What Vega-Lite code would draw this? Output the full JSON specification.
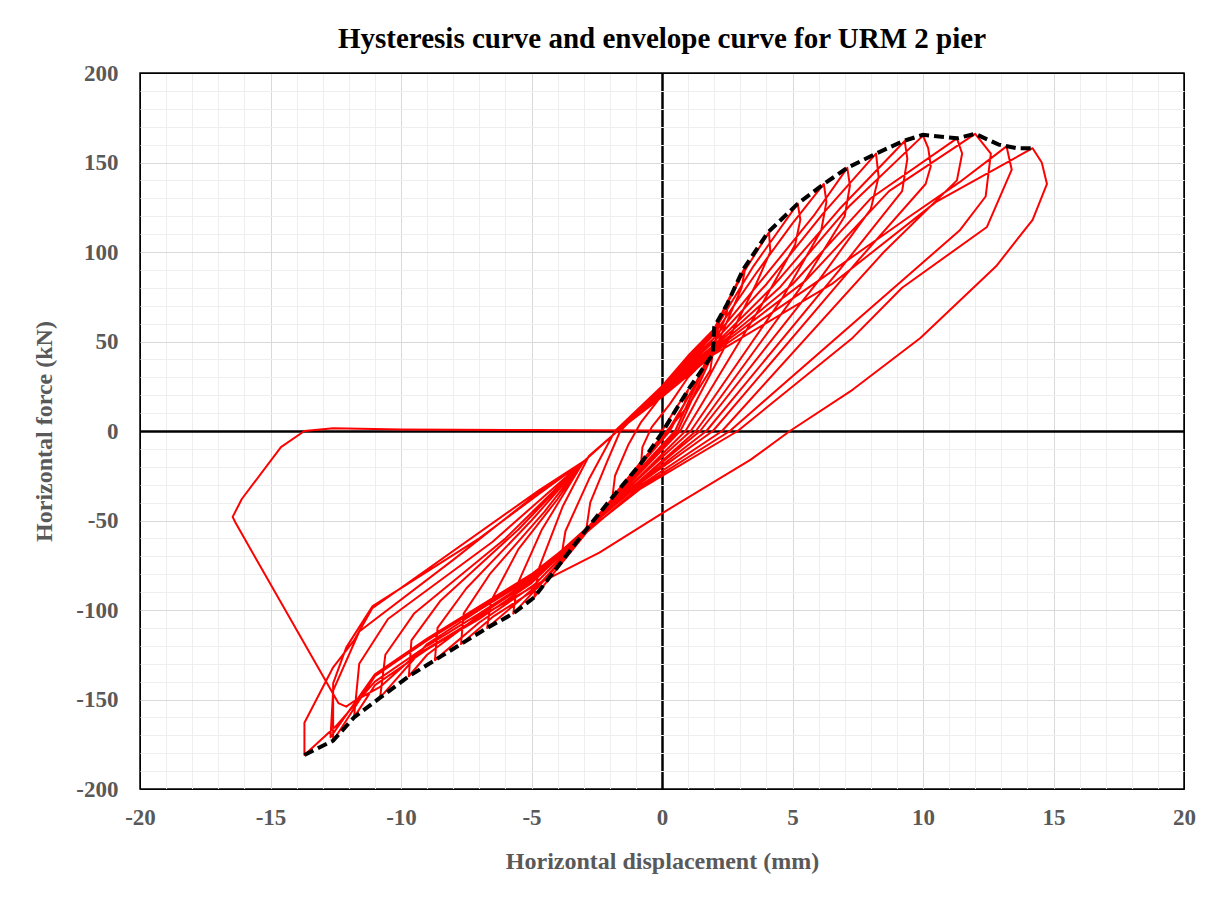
{
  "$schema": "https://vega.github.io/schema/vega-lite/v6.json",
  "width": 1044,
  "height": 716,
  "autosize": {"type": "none"},
  "padding": {"left": 140, "top": 73, "right": 29, "bottom": 112},
  "background": "white",
  "title": {"text": "Hysteresis curve and envelope curve for URM 2 pier", "font": "Liberation Serif", "fontSize": 29, "fontWeight": "bold", "color": "black", "anchor": "middle", "offset": 8},
  "config": {"view": {"stroke": "black", "strokeWidth": 1.5}},
  "datasets": {
    "hyst": [
      {"x":0,"y":0},{"x":0.5,"y":12},{"x":1.0,"y":23},{"x":0.85,"y":15},{"x":0.3,"y":2},{"x":-0.3,"y":-8},{"x":-0.8,"y":-18},{"x":-0.75,"y":-9},{"x":-0.4,"y":2},{"x":0.3,"y":15},{"x":1.0,"y":30},
      {"x":1.95,"y":44},{"x":1.85,"y":34},{"x":1.0,"y":14},{"x":0.2,"y":0},{"x":-0.9,"y":-19},{"x":-1.9,"y":-37},{"x":-1.8,"y":-25},{"x":-1.3,"y":-8},{"x":-0.8,"y":5},{"x":0,"y":20},{"x":1,"y":36},{"x":2.0,"y":52},
      {"x":2.2,"y":61},{"x":2.05,"y":50},{"x":1.3,"y":27},{"x":0.3,"y":0},{"x":-1.4,"y":-29},{"x":-2.9,"y":-55},{"x":-2.75,"y":-40},{"x":-2.1,"y":-17},{"x":-1.6,"y":0},{"x":0,"y":24},{"x":1,"y":40},{"x":2,"y":55},
      {"x":2.6,"y":75},{"x":2.45,"y":64},{"x":1.7,"y":38},{"x":0.5,"y":0},{"x":-1.9,"y":-38},{"x":-3.9,"y":-74},{"x":-3.7,"y":-56},{"x":-2.8,"y":-27},{"x":-1.8,"y":0},{"x":0,"y":25},{"x":1,"y":42},{"x":2,"y":57},{"x":2.5,"y":72},
      {"x":3.2,"y":92},{"x":3.05,"y":80},{"x":2.1,"y":48},{"x":0.6,"y":0},{"x":-2.3,"y":-46},{"x":-4.9,"y":-93},{"x":-4.7,"y":-76},{"x":-3.8,"y":-42},{"x":-2.8,"y":-14},{"x":-1.7,"y":0},{"x":0,"y":25},{"x":1,"y":42},{"x":2,"y":57},{"x":3.1,"y":88},
      {"x":4.1,"y":111},{"x":4.15,"y":100},{"x":3.6,"y":82},{"x":2.3,"y":44},{"x":0.7,"y":0},{"x":-2.2,"y":-44},{"x":-4.3,"y":-80},{"x":-5.7,"y":-102},{"x":-5.55,"y":-86},{"x":-4.6,"y":-55},{"x":-3,"y":-17},{"x":-1.7,"y":0},{"x":0,"y":24},{"x":1,"y":41},{"x":2,"y":56},{"x":3.5,"y":92},
      {"x":5.2,"y":127},{"x":5.3,"y":118},{"x":5.1,"y":104},{"x":3.8,"y":70},{"x":0.9,"y":0},{"x":-2.0,"y":-42},{"x":-4.6,"y":-84},{"x":-6.7,"y":-110},{"x":-6.55,"y":-95},{"x":-5.5,"y":-66},{"x":-4,"y":-38},{"x":-3,"y":-17},{"x":-1.7,"y":0},{"x":0,"y":23},{"x":1,"y":39},{"x":2,"y":54},{"x":3.6,"y":88},{"x":5,"y":116},
      {"x":6.2,"y":138},{"x":6.3,"y":128},{"x":6.1,"y":112},{"x":4.6,"y":74},{"x":1.1,"y":0},{"x":-1.9,"y":-40},{"x":-4.8,"y":-88},{"x":-6.5,"y":-104},{"x":-7.7,"y":-119},{"x":-7.6,"y":-102},{"x":-6.6,"y":-80},{"x":-4.5,"y":-45},{"x":-3,"y":-17},{"x":-1.7,"y":0},{"x":0,"y":22},{"x":1,"y":38},{"x":2,"y":52},{"x":3.8,"y":84},{"x":5.8,"y":120},
      {"x":7.1,"y":147},{"x":7.2,"y":137},{"x":7.0,"y":120},{"x":5.3,"y":80},{"x":1.3,"y":0},{"x":-1.8,"y":-40},{"x":-4.9,"y":-86},{"x":-7,"y":-107},{"x":-8.7,"y":-128},{"x":-8.6,"y":-110},{"x":-7.5,"y":-88},{"x":-5,"y":-50},{"x":-3,"y":-17},{"x":-1.7,"y":0},{"x":0,"y":22},{"x":1,"y":37},{"x":2,"y":50},{"x":4,"y":82},{"x":6.2,"y":122},
      {"x":8.2,"y":155},{"x":8.3,"y":142},{"x":8.0,"y":124},{"x":6,"y":84},{"x":1.46,"y":0},{"x":-1.7,"y":-38},{"x":-5,"y":-84},{"x":-7,"y":-103},{"x":-9,"y":-125},{"x":-9.7,"y":-137},{"x":-9.6,"y":-117},{"x":-8.5,"y":-95},{"x":-5.5,"y":-55},{"x":-3,"y":-17},{"x":-1.7,"y":0},{"x":0,"y":21},{"x":1,"y":36},{"x":2,"y":48},{"x":4.2,"y":80},{"x":6.8,"y":124},
      {"x":9.3,"y":162},{"x":9.4,"y":152},{"x":9.2,"y":134},{"x":6.8,"y":90},{"x":1.7,"y":0},{"x":-1.5,"y":-36},{"x":-5,"y":-82},{"x":-7,"y":-100},{"x":-9,"y":-119},{"x":-10.8,"y":-149},{"x":-10.6,"y":-125},{"x":-9.5,"y":-102},{"x":-6,"y":-60},{"x":-3,"y":-17},{"x":-1.7,"y":0},{"x":0,"y":21},{"x":1,"y":35},{"x":2,"y":47},{"x":4.5,"y":80},{"x":7.2,"y":126},
      {"x":10.0,"y":165},{"x":10.2,"y":158},{"x":10.3,"y":148},{"x":10.1,"y":138},{"x":7.5,"y":95},{"x":1.95,"y":0},{"x":-1.4,"y":-35},{"x":-5,"y":-85},{"x":-7,"y":-105},{"x":-9,"y":-122},{"x":-11,"y":-142},{"x":-11.8,"y":-160},{"x":-11.6,"y":-130},{"x":-10.5,"y":-105},{"x":-6.5,"y":-62},{"x":-3,"y":-17},{"x":-1.7,"y":0},{"x":0,"y":20},{"x":1,"y":34},{"x":2,"y":46},{"x":5,"y":82},{"x":8,"y":130},
      {"x":11.3,"y":163.5},{"x":11.5,"y":155},{"x":11.3,"y":140},{"x":8.5,"y":100},{"x":2.3,"y":0},{"x":-1.2,"y":-34},{"x":-5,"y":-81},{"x":-7,"y":-99},{"x":-9,"y":-117},{"x":-11,"y":-137},{"x":-12.6,"y":-173},{"x":-12.6,"y":-141},{"x":-12.1,"y":-121},{"x":-11.1,"y":-98},{"x":-7,"y":-60},{"x":-4.7,"y":-35},{"x":-3,"y":-17},{"x":-1.7,"y":0},{"x":0,"y":20},{"x":1,"y":33},{"x":2,"y":45},{"x":5.5,"y":84},{"x":8.7,"y":134},
      {"x":12.0,"y":166},{"x":12.6,"y":155},{"x":12.4,"y":131},{"x":11.4,"y":112},{"x":2.6,"y":0},{"x":-1,"y":-33},{"x":-5,"y":-83},{"x":-7,"y":-102},{"x":-9,"y":-120},{"x":-11,"y":-140},{"x":-12.5,"y":-165},{"x":-13.7,"y":-181},{"x":-13.7,"y":-163},{"x":-12.6,"y":-132},{"x":-11.8,"y":-117},{"x":-11.1,"y":-99},{"x":-4.7,"y":-33},{"x":-3,"y":-17},{"x":-1.7,"y":0},{"x":0,"y":19},{"x":1,"y":32},{"x":2,"y":44},{"x":6,"y":84},{"x":9.5,"y":120},{"x":11.4,"y":139},
      {"x":13.2,"y":159},{"x":13.4,"y":146},{"x":12.45,"y":114},{"x":9.2,"y":80},{"x":7.3,"y":52},{"x":2.9,"y":0},{"x":-0.8,"y":-32},{"x":-5,"y":-80},{"x":-7,"y":-98},{"x":-9,"y":-116},{"x":-11,"y":-136},{"x":-12.7,"y":-171},{"x":-12.6,"y":-145},{"x":-11.6,"y":-112},{"x":-8,"y":-72},{"x":-4.7,"y":-34},{"x":-3,"y":-17},{"x":-1.7,"y":0},{"x":0,"y":19},{"x":1,"y":31},{"x":2,"y":43},{"x":6.5,"y":82},{"x":10.5,"y":128},
      {"x":14.2,"y":158},{"x":14.55,"y":150},{"x":14.75,"y":138},{"x":14.2,"y":118},{"x":12.8,"y":92},{"x":9.9,"y":52},{"x":7.3,"y":23},{"x":4.9,"y":0},{"x":3.4,"y":-16},{"x":0,"y":-46},{"x":-2.4,"y":-68},{"x":-4.7,"y":-85},{"x":-7,"y":-104},{"x":-9.5,"y":-126},{"x":-10.8,"y":-143},{"x":-11.8,"y":-151},{"x":-12.1,"y":-154},{"x":-12.4,"y":-152},{"x":-16.35,"y":-51},{"x":-16.45,"y":-48},{"x":-16.1,"y":-38},{"x":-14.6,"y":-9},{"x":-13.7,"y":0},{"x":-12.6,"y":1.5},{"x":-10,"y":0.8},{"x":-5,"y":0.5},{"x":0,"y":0.3}
    ],
    "env": [
      {"x":-13.7,"y":-181},{"x":-12.6,"y":-173},{"x":-11.8,"y":-160},{"x":-10.8,"y":-149},{"x":-9.7,"y":-137},{"x":-8.7,"y":-128},{"x":-7.7,"y":-119},{"x":-6.7,"y":-110},{"x":-5.7,"y":-102},{"x":-4.9,"y":-93},{"x":-3.9,"y":-74},{"x":-2.9,"y":-55},{"x":-1.9,"y":-37},{"x":-0.8,"y":-18},{"x":0,"y":-1},{"x":1.0,"y":23},{"x":1.95,"y":43},{"x":2.0,"y":58},{"x":2.5,"y":71},{"x":3.1,"y":90},{"x":4.06,"y":111},{"x":5.2,"y":127},{"x":6.2,"y":138},{"x":7.1,"y":147},{"x":8.2,"y":155},{"x":9.25,"y":162},{"x":10.0,"y":165.5},{"x":11.3,"y":163.5},{"x":12.0,"y":166},{"x":12.9,"y":160},{"x":13.6,"y":158},{"x":14.2,"y":158}
    ]
  },
  "layer": [
    {
      "data": {"name": "hyst"},
      "mark": {"type": "line", "color": "#ff0000", "strokeWidth": 2, "strokeJoin": "round"},
      "encoding": {
        "x": {"field": "x", "type": "quantitative", "scale": {"domain": [-20, 20], "nice": false, "zero": false},
          "axis": {"title": "Horizontal displacement (mm)",
            "values": [-20,-19,-18,-17,-16,-15,-14,-13,-12,-11,-10,-9,-8,-7,-6,-5,-4,-3,-2,-1,0,1,2,3,4,5,6,7,8,9,10,11,12,13,14,15,16,17,18,19,20],
            "tickCount": 100,
            "labelExpr": "datum.value % 5 === 0 ? '' + datum.value : ''",
            "labelFont": "Liberation Serif", "labelFontSize": 23, "labelFontWeight": "bold", "labelColor": "#595959",
            "labelFlush": false, "labelOverlap": false, "labelPadding": 17, "ticks": false, "domain": false,
            "grid": true,
            "gridColor": {"condition": [{"test": "datum.value === 0 || abs(datum.value) === 20", "value": "black"}, {"test": "datum.value % 5 === 0", "value": "#d9d9d9"}], "value": "#eeeeee"},
            "gridWidth": {"condition": {"test": "datum.value === 0", "value": 2.5}, "value": 1},
            "titleFont": "Liberation Serif", "titleFontSize": 24, "titleFontWeight": "bold", "titleColor": "#595959", "titlePadding": 20}},
        "y": {"field": "y", "type": "quantitative", "scale": {"domain": [-200, 200], "nice": false, "zero": false},
          "axis": {"title": "Horizontal force (kN)",
            "values": [-200,-190,-180,-170,-160,-150,-140,-130,-120,-110,-100,-90,-80,-70,-60,-50,-40,-30,-20,-10,0,10,20,30,40,50,60,70,80,90,100,110,120,130,140,150,160,170,180,190,200],
            "tickCount": 100,
            "labelExpr": "datum.value % 50 === 0 ? '' + datum.value : ''",
            "labelFont": "Liberation Serif", "labelFontSize": 23, "labelFontWeight": "bold", "labelColor": "#595959",
            "labelOverlap": false, "labelPadding": 22, "ticks": false, "domain": false,
            "grid": true,
            "gridColor": {"condition": [{"test": "datum.value === 0 || abs(datum.value) === 200", "value": "black"}, {"test": "datum.value % 50 === 0", "value": "#d9d9d9"}], "value": "#eeeeee"},
            "gridWidth": {"condition": {"test": "datum.value === 0", "value": 2.5}, "value": 1},
            "titleFont": "Liberation Serif", "titleFontSize": 24, "titleFontWeight": "bold", "titleColor": "#595959", "titlePadding": 19}},
        "order": {"value": null}
      }
    },
    {
      "data": {"name": "env"},
      "mark": {"type": "line", "color": "black", "strokeWidth": 4, "strokeDash": [10, 5]},
      "encoding": {
        "x": {"field": "x", "type": "quantitative"},
        "y": {"field": "y", "type": "quantitative"},
        "order": {"value": null}
      }
    }
  ]
}
